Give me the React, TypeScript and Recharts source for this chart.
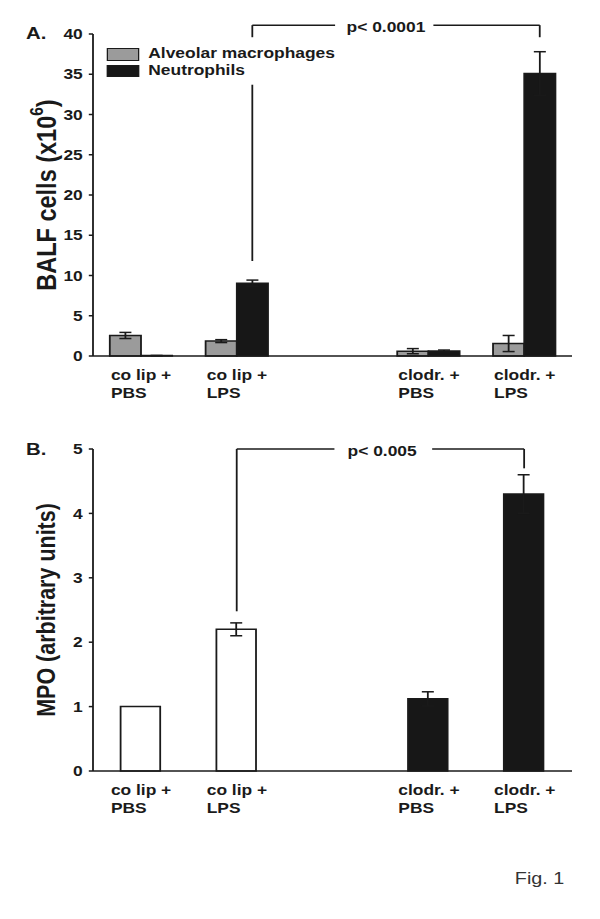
import React from 'react';
import { BarChart, Bar, XAxis, YAxis, ErrorBar, Cell, Legend, ReferenceLine } from 'recharts';

// ---------- data ----------
const categories = ['co lip +|PBS', 'co lip +|LPS', '', 'clodr. +|PBS', 'clodr. +|LPS'];
const macrophages = [2.55, 1.85, null, 0.6, 1.55];
const macrophagesErr = [0.38, 0.18, null, 0.32, 1.0];
const neutrophils = [0.05, 9.05, null, 0.62, 35.1];
const neutrophilsErr = [0.02, 0.38, null, 0.12, 2.7];
const mpo = [1.0, 2.2, null, 1.12, 4.3];
const mpoErr = [0, 0.1, null, 0.11, 0.3];
const mpoTreatment = ['control', 'control', '', 'clodronate', 'clodronate'];
const ticksA = [0, 5, 10, 15, 20, 25, 30, 35, 40];
const ticksB = [0, 1, 2, 3, 4, 5];
const legendLabels = ['Alveolar macrophages', 'Neutrophils'];

// significance brackets (values in data units)
const sigA = { from: categories[1], to: categories[4], top: 41.1, leftEnd: 11.8, rightEnd: 39.6, breakLo: 33.7, breakHi: 39.6, text: 'p< 0.0001' };
const sigB = { from: categories[1], to: categories[4], top: 5.0, leftEnd: 2.48, rightEnd: 4.7, text: 'p< 0.005' };

const dataA = categories.map((cat, i) => ({
  cat,
  mac: macrophages[i],
  macErr: macrophagesErr[i],
  neu: neutrophils[i],
  neuErr: neutrophilsErr[i],
}));
const dataB = categories.map((cat, i) => ({ cat, mpo: mpo[i], mpoErr: mpoErr[i], treat: mpoTreatment[i] }));

// ---------- style ----------
const FONT = '"Liberation Sans", Arial, Helvetica, sans-serif';
const INK = '#1a1a1a';
const GRAY = '#9b9b9b';
const BLACK = '#171717';
const SX = 1.2; // horizontal stretch of the original figure
const W = 600 / SX;
const MARGIN = { top: 34, right: W - 476.7, left: 17.5, bottom: 0 };
const BAR_A = 26;
const BAR_B = 33;

const CatTick = (props: any) => {
  const { x, y, payload } = props;
  const [l1, l2] = String(payload?.value ?? '').split('|');
  if (!l1) return <g />;
  const tx = x - 25;
  return (
    <text x={tx} y={y} fill={INK} fontSize={14.5} fontWeight="bold" fontFamily={FONT} textAnchor="start">
      <tspan x={tx} dy={24}>{l1}</tspan>
      <tspan x={tx} dy={18.5}>{l2}</tspan>
    </text>
  );
};

const makeYLabel = (main: string, sup: string | null, tail: string, size: number) => (props: any) => {
  const vb = props?.viewBox || {};
  const cx = 38.75;
  const cy = (vb.y ?? 34) + (vb.height ?? 322) / 2;
  return (
    <text
      x={cx}
      y={cy}
      transform={`rotate(-90 ${cx} ${cy})`}
      textAnchor="middle"
      dominantBaseline="central"
      fill={INK}
      fontSize={size}
      fontWeight="bold"
      fontFamily={FONT}
    >
      {main}
      {sup ? <tspan dy={-8.5} fontSize={size * 0.66}>{sup}</tspan> : null}
      {sup ? <tspan dy={8.5}>{tail}</tspan> : tail}
    </text>
  );
};

const lineStyle = { stroke: INK, strokeWidth: 1.5, fill: 'none' };

const vShape = (dx: number) => (p: any) => (
  <line x1={p.x1 + dx} y1={p.y1} x2={p.x2 + dx} y2={p.y2} {...lineStyle} />
);

const hShape = (dx: number, text: string, gap: [number, number], textAt: number) => (p: any) => {
  const xl = p.x1 + dx;
  const xr = p.x2 + dx;
  const span = xr - xl;
  const g1 = xl + span * gap[0];
  const g2 = xl + span * gap[1];
  const tx = xl + span * textAt;
  return (
    <g>
      <line x1={xl} y1={p.y1} x2={g1} y2={p.y1} {...lineStyle} />
      <line x1={g2} y1={p.y1} x2={xr} y2={p.y1} {...lineStyle} />
      <text x={tx} y={p.y1 + 7} textAnchor="middle" fill={INK} fontSize={14.5} fontWeight="bold" fontFamily={FONT}>
        {text}
      </text>
    </g>
  );
};

const LegendBox = () => (
  <div style={{ fontFamily: FONT }}>
    {legendLabels.map((label, i) => (
      <div key={label} style={{ display: 'flex', alignItems: 'center', height: 16.7 }}>
        <span
          style={{
            display: 'inline-block',
            boxSizing: 'border-box',
            width: 26.7,
            height: 12.4,
            border: `1.5px solid ${INK}`,
            background: i === 0 ? GRAY : BLACK,
            marginRight: 7.5,
          }}
        />
        <span
          style={{
            fontSize: 14.5,
            fontWeight: 'bold',
            color: INK,
            position: 'relative',
            top: -1.5,
            whiteSpace: 'nowrap',
          }}
        >
          {label}
        </span>
      </div>
    ))}
  </div>
);

const axisLine = { stroke: INK, strokeWidth: 1.5 };
const tickStyle = { fill: INK, fontSize: 14.5, fontWeight: 'bold', fontFamily: FONT };

export default function App() {
  const dxA = BAR_A / 2; // centre of the neutrophil bar within its group
  return (
    <div style={{ position: 'absolute', left: 0, top: 0, width: 600, height: 919, background: '#fff', overflow: 'hidden' }}>
      <div
        style={{
          position: 'absolute',
          left: 0,
          top: 0,
          width: W,
          height: 919,
          transform: `scaleX(${SX})`,
          transformOrigin: '0 0',
        }}
      >
        <div style={{ position: 'absolute', left: 0, top: 0 }}>
          <BarChart width={W} height={400} data={dataA} margin={MARGIN} barGap={0} barSize={BAR_A}>
            <XAxis
              dataKey="cat"
              interval={0}
              tickLine={false}
              tickSize={0}
              tickMargin={0}
              height={44}
              axisLine={axisLine}
              tick={CatTick}
            />
            <YAxis
              type="number"
              domain={[0, 40]}
              ticks={ticksA}
              interval={0}
              width={60}
              tickSize={3.5}
              tickMargin={5}
              axisLine={axisLine}
              tickLine={axisLine}
              tick={tickStyle}
              label={makeYLabel('BALF cells (x10', '6', ')', 23.5)}
            />
            <Legend
              layout="vertical"
              align="center"
              verticalAlign="middle"
              wrapperStyle={{ left: 89.4, top: 46.2, width: 260, height: 34 }}
              content={() => <LegendBox />}
            />
            <Bar dataKey="mac" name={legendLabels[0]} fill={GRAY} stroke={INK} strokeWidth={1.5} isAnimationActive={false}>
              <ErrorBar dataKey="macErr" width={5} stroke={INK} strokeWidth={1.5} direction="y" />
            </Bar>
            <Bar dataKey="neu" name={legendLabels[1]} fill={BLACK} stroke={INK} strokeWidth={1.5} isAnimationActive={false}>
              <ErrorBar dataKey="neuErr" width={5} stroke={INK} strokeWidth={1.5} direction="y" />
            </Bar>
            <ReferenceLine
              ifOverflow="visible"
              segment={[{ x: sigA.from, y: sigA.top }, { x: sigA.to, y: sigA.top }]}
              shape={hShape(dxA, sigA.text, [0.288, 0.63], 0.465)}
            />
            <ReferenceLine
              ifOverflow="visible"
              segment={[{ x: sigA.from, y: sigA.top }, { x: sigA.from, y: sigA.breakHi }]}
              shape={vShape(dxA)}
            />
            <ReferenceLine
              ifOverflow="visible"
              segment={[{ x: sigA.from, y: sigA.breakLo }, { x: sigA.from, y: sigA.leftEnd }]}
              shape={vShape(dxA)}
            />
            <ReferenceLine
              ifOverflow="visible"
              segment={[{ x: sigA.to, y: sigA.top }, { x: sigA.to, y: sigA.rightEnd }]}
              shape={vShape(dxA)}
            />
          </BarChart>
        </div>

        <div style={{ position: 'absolute', left: 0, top: 415 }}>
          <BarChart width={W} height={400} data={dataB} margin={MARGIN} barSize={BAR_B}>
            <XAxis
              dataKey="cat"
              interval={0}
              tickLine={false}
              tickSize={0}
              tickMargin={0}
              height={44}
              axisLine={axisLine}
              tick={CatTick}
            />
            <YAxis
              type="number"
              domain={[0, 5]}
              ticks={ticksB}
              interval={0}
              width={60}
              tickSize={3.5}
              tickMargin={5}
              axisLine={axisLine}
              tickLine={axisLine}
              tick={tickStyle}
              label={makeYLabel('MPO (arbitrary units)', null, '', 21.5)}
            />
            <Bar dataKey="mpo" stroke={INK} strokeWidth={1.5} isAnimationActive={false}>
              {dataB.map((d, i) => (
                <Cell key={i} fill={d.treat === 'control' ? '#ffffff' : BLACK} />
              ))}
              <ErrorBar dataKey="mpoErr" width={5} stroke={INK} strokeWidth={1.5} direction="y" />
            </Bar>
            <ReferenceLine
              ifOverflow="visible"
              segment={[{ x: sigB.from, y: sigB.top }, { x: sigB.to, y: sigB.top }]}
              shape={hShape(0, sigB.text, [0.34, 0.68], 0.506)}
            />
            <ReferenceLine
              ifOverflow="visible"
              segment={[{ x: sigB.from, y: sigB.top }, { x: sigB.from, y: sigB.leftEnd }]}
              shape={vShape(0)}
            />
            <ReferenceLine
              ifOverflow="visible"
              segment={[{ x: sigB.to, y: sigB.top }, { x: sigB.to, y: sigB.rightEnd }]}
              shape={vShape(0)}
            />
          </BarChart>
        </div>

        <svg width={W} height={919} style={{ position: 'absolute', left: 0, top: 0, pointerEvents: 'none' }}>
          <text x={21.7} y={39.5} fill={INK} fontSize={17} fontWeight="bold" fontFamily={FONT}>A.</text>
          <text x={21.7} y={455.5} fill={INK} fontSize={17} fontWeight="bold" fontFamily={FONT}>B.</text>
          <text x={429} y={884} fill="#333" fontSize={16.5} fontFamily={FONT}>Fig. 1</text>
        </svg>
      </div>
    </div>
  );
}
